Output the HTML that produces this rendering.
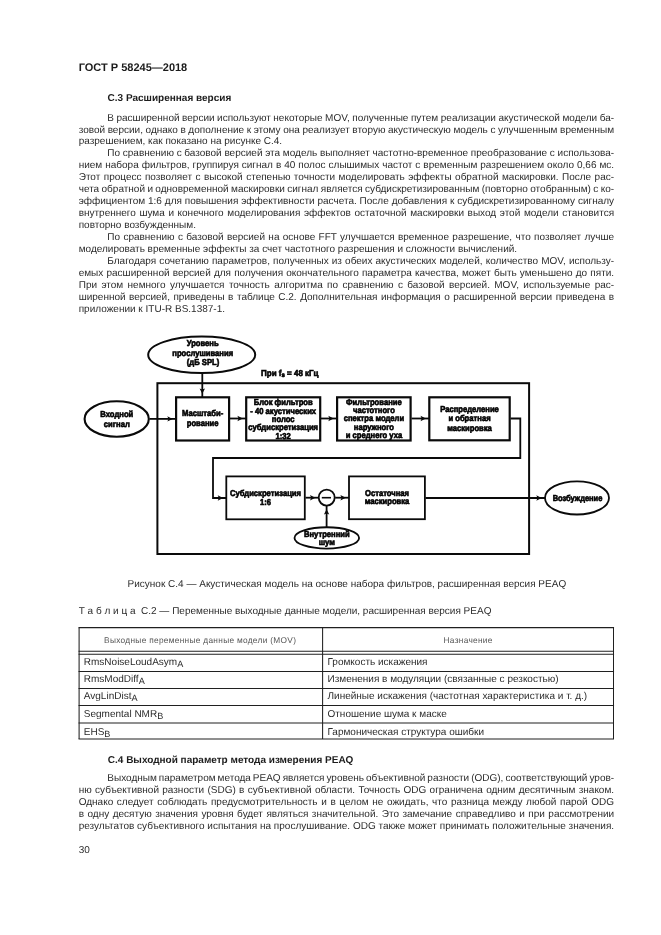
<!DOCTYPE html>
<html lang="ru"><head><meta charset="utf-8"><title>ГОСТ Р 58245—2018</title>
<style>
html,body{margin:0;padding:0;background:#fff;}
body{text-rendering:geometricPrecision;will-change:transform;filter:grayscale(1);width:661px;height:935px;position:relative;overflow:hidden;font-family:"Liberation Sans", Arial, sans-serif;color:#2b2b2b;}
.l{position:absolute;white-space:pre;line-height:12px;font-size:10px;margin:0;}
.b{font-weight:bold;color:#1c1c1c;}
.h1{position:absolute;white-space:pre;font-weight:bold;color:#1c1c1c;font-size:11px;line-height:12px;}
.tbl div{position:absolute;background:#222;}
.th{position:absolute;white-space:pre;font-size:8.3px;letter-spacing:0.31px;line-height:12px;color:#555;}
.td{position:absolute;white-space:pre;font-size:10px;line-height:12px;}
.td sub{font-size:9.1px;line-height:0;vertical-align:baseline;position:relative;top:1.8px;}
svg{position:absolute;left:0;top:0;}
svg text{font-family:"Liberation Sans", Arial, sans-serif;font-weight:bold;font-size:8.6px;fill:#000;stroke:#000;stroke-width:0.62px;text-anchor:middle;}
</style></head><body>
<div class="h1" style="left:78.7px;top:62.00px">ГОСТ Р 58245—2018</div>
<div class="l b" style="left:107.6px;top:93.00px">С.3 Расширенная версия</div>
<p class="l" style="left:107.3px;top:113.00px;word-spacing:-0.257px;">В расширенной версии используют некоторые MOV, полученные путем реализации акустической модели ба-</p>
<p class="l" style="left:78.7px;top:125.00px;word-spacing:-0.177px;">зовой версии, однако в дополнение к этому она реализует вторую акустическую модель с улучшенным временным</p>
<p class="l" style="left:78.7px;top:136.00px;">разрешением, как показано на рисунке С.4.</p>
<p class="l" style="left:107.3px;top:148.00px;word-spacing:-0.049px;">По сравнению с базовой версией эта модель выполняет частотно-временное преобразование с использова-</p>
<p class="l" style="left:78.7px;top:160.00px;word-spacing:0.200px;">нием набора фильтров, группируя сигнал в 40 полос слышимых частот с временным разрешением около 0,66 мс.</p>
<p class="l" style="left:78.7px;top:172.00px;word-spacing:0.687px;">Этот процесс позволяет с высокой степенью точности моделировать эффекты обратной маскировки. После рас-</p>
<p class="l" style="left:78.7px;top:184.00px;word-spacing:-0.383px;">чета обратной и одновременной маскировки сигнал является субдискретизированным (повторно отобранным) с ко-</p>
<p class="l" style="left:78.7px;top:196.00px;word-spacing:0.107px;">эффициентом 1:6 для повышения эффективности расчета. После добавления к субдискретизированному сигналу</p>
<p class="l" style="left:78.7px;top:208.00px;word-spacing:0.828px;">внутреннего шума и конечного моделирования эффектов остаточной маскировки выход этой модели становится</p>
<p class="l" style="left:78.7px;top:220.00px;">повторно возбужденным.</p>
<p class="l" style="left:107.3px;top:232.00px;word-spacing:0.581px;">По сравнению с базовой версией на основе FFT улучшается временное разрешение, что позволяет лучше</p>
<p class="l" style="left:78.7px;top:244.00px;">моделировать временные эффекты за счет частотного разрешения и сложности вычислений.</p>
<p class="l" style="left:107.3px;top:256.00px;word-spacing:0.344px;">Благодаря сочетанию параметров, полученных из обеих акустических моделей, количество MOV, использу-</p>
<p class="l" style="left:78.7px;top:268.00px;word-spacing:0.391px;">емых расширенной версией для получения окончательного параметра качества, может быть уменьшено до пяти.</p>
<p class="l" style="left:78.7px;top:280.00px;word-spacing:1.605px;">При этом немного улучшается точность алгоритма по сравнению с базовой версией. MOV, используемые рас-</p>
<p class="l" style="left:78.7px;top:292.00px;word-spacing:0.709px;">ширенной версией, приведены в таблице С.2. Дополнительная информация о расширенной версии приведена в</p>
<p class="l" style="left:78.7px;top:304.00px;">приложении к ITU-R BS.1387-1.</p>
<p class="l" style="left:107.3px;top:773.00px;word-spacing:-0.793px;">Выходным параметром метода PEAQ является уровень объективной разности (ODG), соответствующий уров-</p>
<p class="l" style="left:78.7px;top:785.00px;word-spacing:0.527px;">ню субъективной разности (SDG) в субъективной области. Точность ODG ограничена одним десятичным знаком.</p>
<p class="l" style="left:78.7px;top:797.00px;word-spacing:0.871px;">Однако следует соблюдать предусмотрительность и в целом не ожидать, что разница между любой парой ODG</p>
<p class="l" style="left:78.7px;top:809.00px;word-spacing:0.704px;">в одну десятую значения уровня будет являться значительной. Это замечание справедливо и при рассмотрении</p>
<p class="l" style="left:78.7px;top:821.00px;word-spacing:0.076px;">результатов субъективного испытания на прослушивание. ODG также может принимать положительные значения.</p>
<svg width="661" height="935" viewBox="0 0 661 935">
<g fill="none" stroke="#0a0a0a" stroke-width="1.8">
<rect x="157.4" y="383.2" width="371.7" height="170.8" stroke-width="2"/>
<path d="M149.5 418.9 L176.0 418.9"/>
<path d="M202.3 373.5 L202.3 397.0"/>
<path d="M230.0 418.5 L246.0 418.5"/>
<path d="M321.0 418.5 L337.0 418.5"/>
<path d="M411.5 418.5 L429.0 418.5"/>
<path d="M510.5 418.5 L520.3 418.5 L520.3 458.0 L213.0 458.0 L213.0 498.0 L226.0 498.0"/>
<path d="M305.5 497.7 L318.5 497.7"/>
<path d="M335.2 497.7 L349.0 497.7"/>
<path d="M425.5 498.0 L545.0 498.0"/>
<path d="M326.6 527.5 L326.6 506.0"/>
</g>
<g fill="#fff" stroke="#0a0a0a">
<ellipse cx="201.7" cy="354.8" rx="53.5" ry="18.3" stroke-width="2"/>
<ellipse cx="116.7" cy="419" rx="32.1" ry="17.7" stroke-width="2.1"/>
<rect x="176.10" y="397.30" width="53.00" height="43.20" stroke-width="2.2"/>
<rect x="246.20" y="397.30" width="74.00" height="43.20" stroke-width="2.2"/>
<rect x="337.10" y="397.30" width="73.50" height="43.20" stroke-width="2.2"/>
<rect x="429.30" y="397.30" width="80.40" height="43.00" stroke-width="2.2"/>
<rect x="226.30" y="476.40" width="78.50" height="42.90" stroke-width="1.8"/>
<rect x="349.00" y="476.40" width="75.90" height="42.80" stroke-width="1.8"/>
<circle cx="326.7" cy="497.6" r="8" stroke-width="1.8"/>
<ellipse cx="326.8" cy="537.9" rx="32.3" ry="10.65" stroke-width="1.8"/>
<ellipse cx="577" cy="497.9" rx="32" ry="16.6" stroke-width="1.8"/>
</g>
<path d="M321.8 497.7 H331" stroke="#0a0a0a" stroke-width="1.6" fill="none"/>
<g fill="#0a0a0a" stroke="none">
<path d="M172.7 418.9 L167.3 416.2 L168.5 418.9 L167.3 421.6Z"/>
<path d="M202.3 393.8 L199.6 388.4 L202.3 389.6 L205.0 388.4Z"/>
<path d="M242.8 418.5 L237.4 415.8 L238.6 418.5 L237.4 421.2Z"/>
<path d="M333.7 418.5 L328.3 415.8 L329.5 418.5 L328.3 421.2Z"/>
<path d="M425.9 418.5 L420.5 415.8 L421.7 418.5 L420.5 421.2Z"/>
<path d="M223.1 498.0 L217.7 495.3 L218.9 498.0 L217.7 500.7Z"/>
<path d="M315.4 497.7 L310.0 495.0 L311.2 497.7 L310.0 500.4Z"/>
<path d="M345.8 497.7 L340.4 495.0 L341.6 497.7 L340.4 500.4Z"/>
<path d="M541.7 498.0 L536.3 495.3 L537.5 498.0 L536.3 500.7Z"/>
<path d="M326.6 509.2 L323.9 514.6 L326.6 513.4 L329.3 514.6Z"/>
</g>
<g class="dt">
<text transform="translate(202.7 346.40) scale(0.89 1)">Уровень</text>
<text transform="translate(202.7 355.90) scale(0.89 1)">прослушивания</text>
<text transform="translate(203.0 365.00) scale(0.89 1)">(дБ SPL)</text>
<text transform="translate(289.8 376.00) scale(0.93 1)">При f<tspan font-size="6.5" dy="1">s</tspan><tspan dy="-1"> = 48 кГц</tspan></text>
<text transform="translate(116.8 417.40) scale(0.89 1)">Входной</text>
<text transform="translate(116.8 426.50) scale(0.89 1)">сигнал</text>
<text transform="translate(202.6 416.40) scale(0.89 1)">Масштаби-</text>
<text transform="translate(202.6 425.60) scale(0.89 1)">рование</text>
<text transform="translate(283.2 405.10) scale(0.89 1)">Блок фильтров</text>
<text transform="translate(283.2 413.90) scale(0.89 1)">- 40 акустических</text>
<text transform="translate(283.2 422.30) scale(0.89 1)">полос</text>
<text transform="translate(283.2 429.90) scale(0.89 1)">субдискретизация</text>
<text transform="translate(283.2 438.60) scale(0.89 1)">1:32</text>
<text transform="translate(373.9 404.70) scale(0.89 1)">Фильтрование</text>
<text transform="translate(373.9 412.60) scale(0.89 1)">частотного</text>
<text transform="translate(373.9 421.30) scale(0.89 1)">спектра модели</text>
<text transform="translate(373.9 429.70) scale(0.89 1)">наружного</text>
<text transform="translate(373.9 437.70) scale(0.89 1)">и среднего уха</text>
<text transform="translate(469.5 411.50) scale(0.89 1)">Распределение</text>
<text transform="translate(469.5 421.30) scale(0.89 1)">и обратная</text>
<text transform="translate(469.5 430.60) scale(0.89 1)">маскировка</text>
<text transform="translate(265.5 496.20) scale(0.89 1)">Субдискретизация</text>
<text transform="translate(265.5 505.30) scale(0.89 1)">1:6</text>
<text transform="translate(387.0 495.50) scale(0.89 1)">Остаточная</text>
<text transform="translate(387.0 504.10) scale(0.89 1)">маскировка</text>
<text transform="translate(326.8 536.60) scale(0.89 1)">Внутренний</text>
<text transform="translate(326.8 544.90) scale(0.89 1)">шум</text>
<text transform="translate(577.5 500.70) scale(0.87 1)">Возбуждение</text>
</g>
</svg>
<p class="l" style="left:127.6px;top:579.00px">Рисунок С.4 — Акустическая модель на основе набора фильтров, расширенная версия PEAQ</p>
<p class="l" style="left:78.7px;top:606.00px">Т а б л и ц а  С.2 — Переменные выходные данные модели, расширенная версия PEAQ</p>
<svg width="661" height="935" viewBox="0 0 661 935"><g stroke="#202020" stroke-width="1.05" fill="none">
<path d="M78.55 627.60H614.05"/>
<path d="M78.55 651.30H614.05"/>
<path d="M78.55 654.30H614.05"/>
<path d="M78.55 671.40H614.05"/>
<path d="M78.55 688.40H614.05"/>
<path d="M78.55 705.40H614.05"/>
<path d="M78.55 722.90H614.05"/>
<path d="M78.55 739.00H614.05"/>
<path d="M79.10 627.60V739.00"/>
<path d="M322.60 627.60V739.00"/>
<path d="M613.50 627.60V739.00"/>
</g></svg>
<div class="th" style="left:104.1px;top:634.00px">Выходные переменные данные модели (MOV)</div>
<div class="th" style="left:443.5px;top:634.00px">Назначение</div>
<div class="td" style="left:83.8px;top:657px">RmsNoiseLoudAsym<sub>A</sub></div><div class="td" style="left:327.5px;top:657px">Громкость искажения</div>
<div class="td" style="left:83.8px;top:674px">RmsModDiff<sub>A</sub></div><div class="td" style="left:327.5px;top:674px">Изменения в модуляции (связанные с резкостью)</div>
<div class="td" style="left:83.8px;top:691px">AvgLinDist<sub>A</sub></div><div class="td" style="left:327.5px;top:691px">Линейные искажения (частотная характеристика и т. д.)</div>
<div class="td" style="left:83.8px;top:709px">Segmental NMR<sub>B</sub></div><div class="td" style="left:327.5px;top:709px">Отношение шума к маске</div>
<div class="td" style="left:83.8px;top:727px">EHS<sub>B</sub></div><div class="td" style="left:327.5px;top:727px">Гармоническая структура ошибки</div>
<div class="l b" style="left:107.8px;top:755.00px">С.4 Выходной параметр метода измерения PEAQ</div>
<div class="l" style="left:78.8px;top:845.00px;font-size:10px">30</div>
</body></html>
